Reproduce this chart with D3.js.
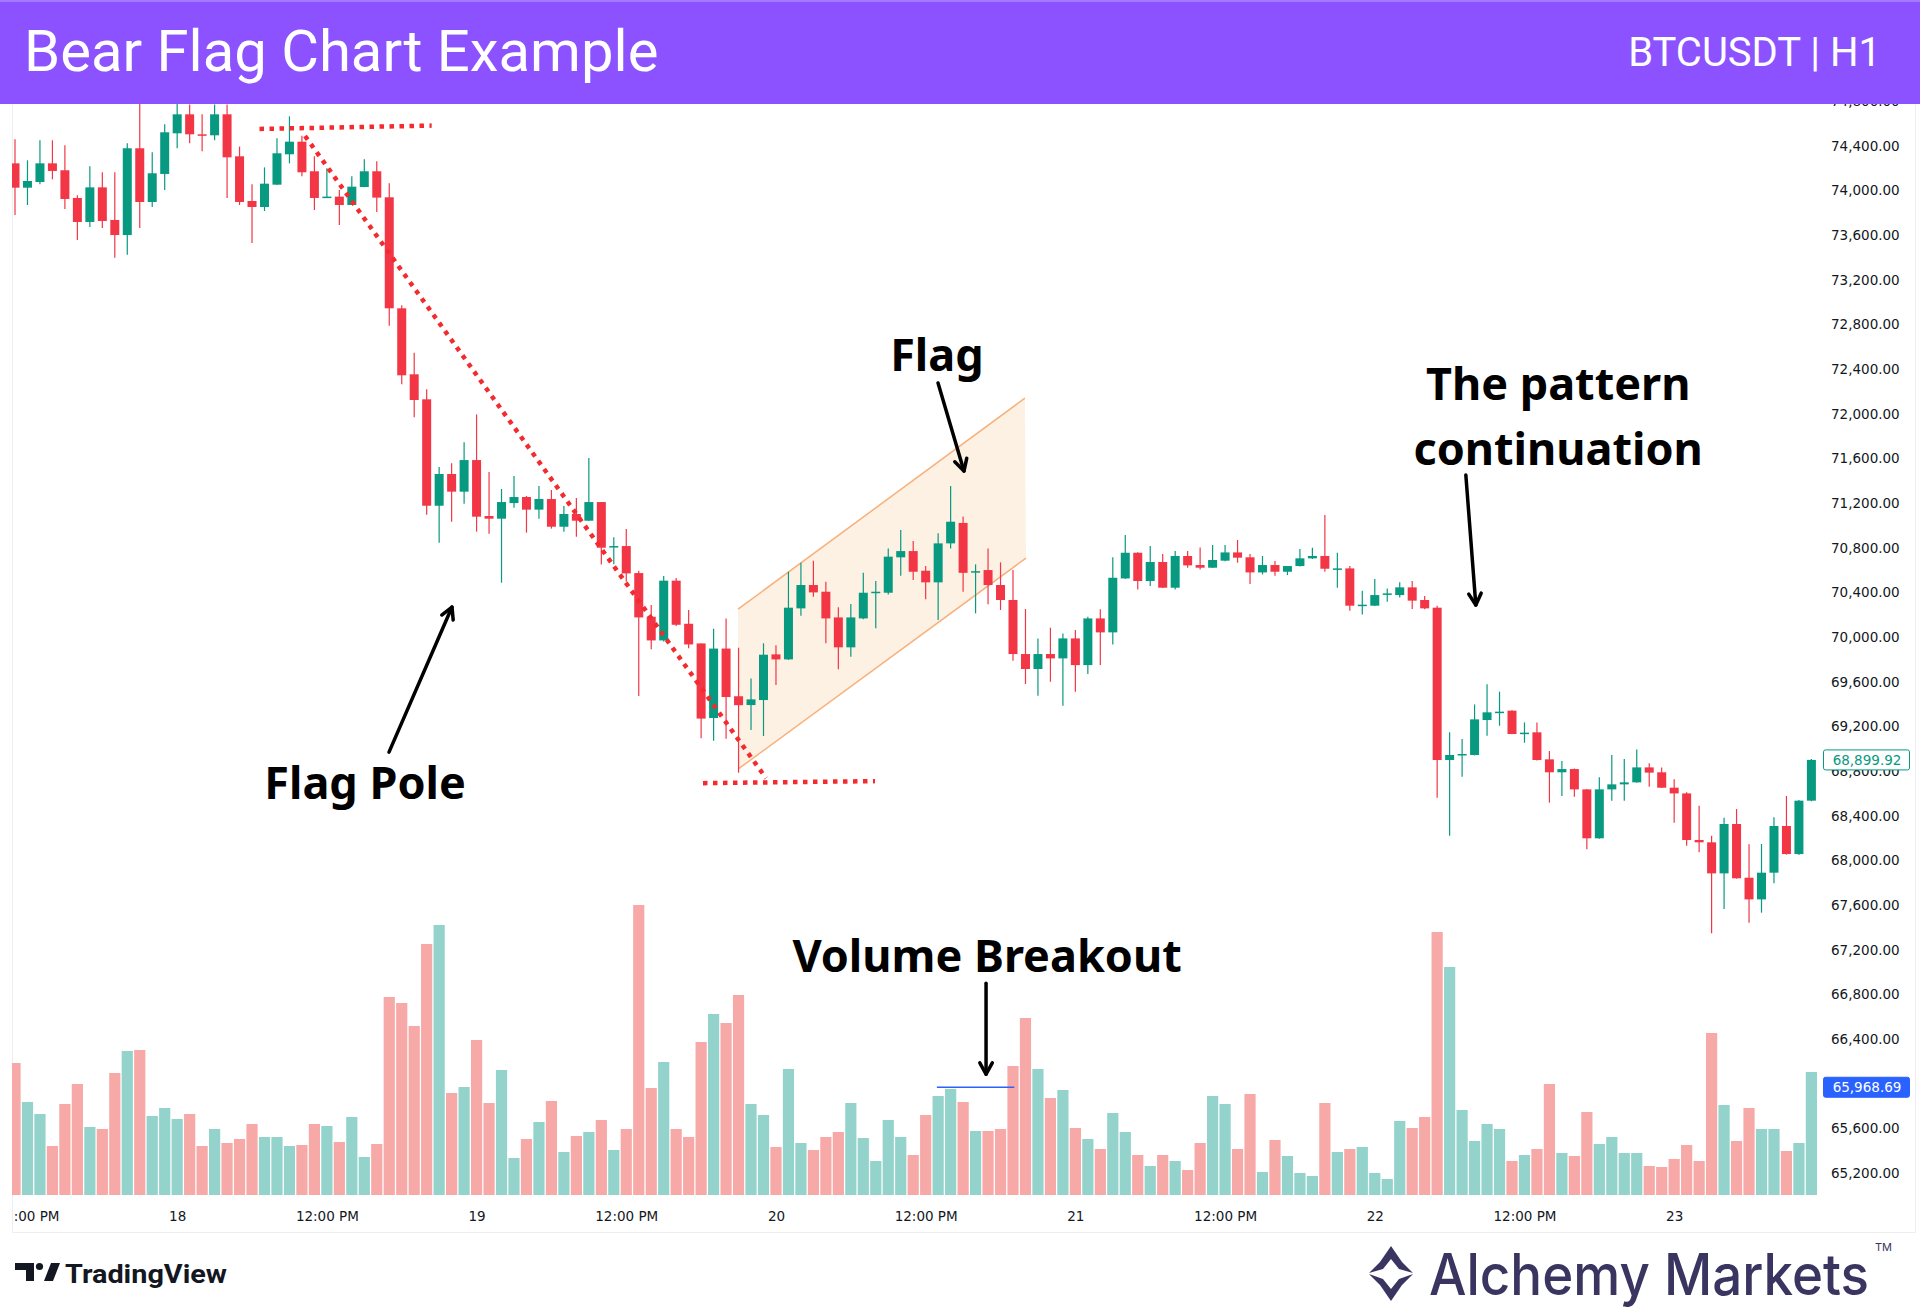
<!DOCTYPE html>
<html>
<head>
<meta charset="utf-8">
<script src="https://cdn.jsdelivr.net/npm/d3@7"></script>
<style>
  body { margin: 0; background: #fff; }
  svg { display: block; }
</style>
</head>
<body>
<svg id="chart" width="1920" height="1314"></svg>
<script>
// BTCUSDT 1h candles, 17th 11:00 -> 23rd 11:00
const opens = [74242,74024,74075,74242,74180,73932,73717,74027,73735,73600,74377,73896,74147,74511,74681,74502,74493,74681,74305,73905,
  73851,74051,74323,74436,74171,73940,73944,73869,74030,74171,73938,72944,72353,72129,71176,71460,71302,71585,71084,71060,
  71200,71254,71141,71236,70988,71102,71042,71209,70808,70815,70573,70182,69970,70505,70119,69943,69275,69897,69470,69391,
  69436,69845,69800,70257,70466,70406,70176,69908,70167,70400,70397,70714,70770,70594,70490,70839,71022,70580,70600,70466,
  70332,69848,69714,69848,69809,69988,69749,70167,70042,70525,70755,70502,70672,70442,70726,70645,70621,70684,70758,70714,
  70579,70645,70585,70636,70705,70726,70608,70615,70284,70281,70385,70376,70445,70332,70263,68899,68950,68944,69257,69329,
  69341,69140,69147,68905,68789,68818,68636,68198,68636,68681,68699,68833,68789,68651,68600,68183,68162,67884,68326,67845,
  67651,67890,68308,68057,68535];
const highs = [74457,74269,74448,74448,74403,73956,74215,74162,74162,74421,74850,74341,74592,74780,74770,74681,74770,74770,74392,74054,
  74206,74466,74663,74490,74305,74197,74003,74126,74278,74260,74063,72971,72547,72218,71523,71556,71744,71994,71478,71326,
  71442,71263,71353,71317,71173,71245,71603,71209,70893,70967,70594,70287,70546,70528,70242,69943,70075,70167,69905,69630,
  69944,69926,70585,70666,70684,70496,70266,70296,70576,70502,70794,70958,70860,70636,70929,71353,71080,70651,70794,70669,
  70600,70251,69988,70084,70033,70063,70182,70248,70714,70914,70760,70815,70743,70770,70770,70803,70824,70824,70869,70743,
  70726,70681,70636,70788,70800,71093,70755,70636,70415,70520,70436,70490,70502,70367,70281,69147,69087,69397,69577,69511,
  69345,69236,69236,68980,68890,68822,68640,68744,68944,68908,68994,68869,68833,68726,68610,68490,68221,68383,68460,68144,
  68147,68386,68577,68541,68908];
const lows = [73780,73869,74054,74099,73833,73556,73672,73663,73397,73424,73663,73851,74003,74377,74421,74350,74448,73932,73869,73529,
  73815,74048,74242,74126,73824,73938,73690,73869,74028,73806,72788,72263,71968,71096,70845,71033,71194,70944,70926,70487,
  71159,70935,71060,70971,70944,70899,71042,70650,70651,70496,69472,69890,69960,70100,69899,69093,69072,69090,68785,69167,
  69114,69570,69795,70191,70361,69944,69711,69824,70160,70078,70382,70549,70511,70338,70153,70794,70406,70212,70293,70242,
  69788,69579,69475,69600,69385,69511,69669,69749,69934,70520,70427,70457,70440,70427,70621,70606,70618,70680,70666,70475,
  70561,70549,70555,70632,70700,70585,70442,70236,70203,70278,70317,70355,70251,70250,68562,68221,68750,68940,69117,69206,
  69130,69054,68895,68517,68577,68571,68099,68195,68535,68535,68695,68660,68648,68338,68132,68072,67347,67565,67836,67442,
  67532,67795,68052,68048,68530];
const closes = [74024,74084,74242,74174,73923,73717,74027,73726,73600,74377,73896,74153,74520,74681,74502,74498,74681,74296,73896,73851,
  74060,74332,74436,74162,73932,73944,73869,74033,74171,73935,72944,72344,72123,71176,71460,71302,71585,71078,71060,71209,
  71254,71141,71236,70988,71102,71042,71209,70800,70815,70570,70176,69970,70505,70110,69934,69270,69897,69463,69390,69442,
  69842,69800,70263,70466,70400,70167,69908,70176,70397,70406,70720,70770,70585,70490,70839,71033,70575,70590,70466,70332,
  69848,69714,69848,69809,69988,69749,70167,70042,70531,70755,70502,70672,70442,70726,70642,70621,70690,70758,70711,70579,
  70645,70585,70636,70705,70726,70612,70615,70281,70290,70376,70391,70445,70326,70257,68899,68944,68953,69263,69326,69332,
  69132,69144,68899,68789,68818,68636,68198,68636,68681,68699,68833,68786,68651,68600,68183,68162,67884,68326,67840,67651,
  67890,68308,68057,68535,68899.92];
const volumes = [1320,930,810,490,910,1110,680,660,1220,1440,1450,790,870,760,810,490,660,520,560,710,
  580,580,490,500,710,690,530,780,380,510,1980,1920,1690,2510,2700,1020,1080,1550,920,1250,
  370,560,730,940,430,590,630,750,450,660,2900,1070,1330,660,580,1530,1810,1720,2000,910,
  800,480,1260,520,450,580,630,920,570,340,750,580,400,800,990,1060,930,640,640,660,
  1290,1770,1260,970,1050,670,560,460,820,630,400,290,400,340,250,520,990,910,460,1010,
  230,550,390,220,190,920,430,460,480,220,160,740,670,780,2630,2280,850,540,710,660,
  340,400,460,1110,420,390,830,510,580,420,420,290,280,360,500,340,1620,900,540,870,
  660,660,440,520,1230];

const startTime = Date.UTC(2024, 2, 17, 11);
const priceTicks = [65200,65600,66000,66400,66800,67200,67600,68000,68400,68800,69200,69600,70000,
  70400,70800,71200,71600,72000,72400,72800,73200,73600,74000,74400,74800];
const lastPrice = 68899.92;
const breakoutLevel = 65968.69;

// drawings, anchored as [bar index, price]
const poleTop = [[19.6, 74550], [33.4, 74580]];
const poleLine = [[23.25, 74487], [60.2, 68737]];
const poleBottom = [[55.15, 68692], [68.94, 68710]];
const flagChannel = [[57.96, 70250], [80.96, 72140], [81.04, 70707], [57.96, 68817]];
const breakoutLine = [[73.9, breakoutLevel], [80.1, breakoutLevel]];
const labels = [
  { text: "Flag", at: [73.9, 72535] },
  { text: "Flag Pole", at: [28.06, 68711] },
  { text: "The pattern", at: [123.7, 72282] },
  { text: "continuation", at: [123.7, 71700] },
  { text: "Volume Breakout", at: [77.92, 67161] }
];
const arrows = [
  [[73.99, 72275], [76.07, 71487]],
  [[29.98, 68970], [35.03, 70269]],
  [[116.3, 71451], [117.1, 70287]],
  [[77.84, 66900], [77.84, 66085]]
];

const up = "#089981", down = "#f23645";
const upVol = "#93d3cc", downVol = "#f7a9a8";

const svg = d3.select("#chart");
const hour = 3600e3;
const t = i => new Date(startTime + i * hour);

const bars = opens.map((o, i) => ({
  t: t(i), o, h: highs[i], l: lows[i], c: closes[i], v: volumes[i], up: closes[i] >= o
}));

const x = d3.scaleUtc()
    .domain([bars[0].t, bars[bars.length - 1].t])
    .range([15, 1811.4]);
const y = d3.scaleLinear()
    .domain([65200, 74400])
    .range([1173.1, 145.7]);
const yVol = d3.scaleLinear()
    .domain([0, 3000])
    .range([1195, 895]);

const px = ([i, p]) => [x(t(i)), y(p)];

const defs = svg.append("defs");
defs.append("clipPath").attr("id", "pane")
  .append("rect").attr("x", 12).attr("y", 0).attr("width", 1806).attr("height", 1232);
defs.append("clipPath").attr("id", "timeClip")
  .append("rect").attr("x", 13.5).attr("y", 1195).attr("width", 1804).attr("height", 37);

// widget border
svg.append("path")
    .attr("d", "M12.5,100 V1232.5 H1915.5 V100")
    .attr("fill", "none")
    .attr("stroke", "#eceef2");

const pane = svg.append("g").attr("clip-path", "url(#pane)");

// volume
pane.append("g")
  .selectAll("rect")
  .data(bars)
  .join("rect")
    .attr("x", d => x(d.t) - 5.6)
    .attr("width", 11.2)
    .attr("y", d => yVol(d.v))
    .attr("height", d => yVol(0) - yVol(d.v))
    .attr("fill", d => d.up ? upVol : downVol);

// flag channel
pane.append("path")
    .attr("d", d3.line()(flagChannel.map(px)) + "Z")
    .attr("fill", "#fdf1e4")
    .attr("stroke", "none");
pane.append("g")
  .selectAll("path")
  .data([[flagChannel[0], flagChannel[1]], [flagChannel[3], flagChannel[2]]])
  .join("path")
    .attr("d", d => d3.line()(d.map(px)))
    .attr("stroke", "#f8b07a")
    .attr("stroke-width", 1.5);

// candles
const candle = pane.append("g")
  .selectAll("g")
  .data(bars)
  .join("g")
    .attr("fill", d => d.up ? up : down)
    .attr("stroke", d => d.up ? up : down);

candle.append("line")
    .attr("x1", d => x(d.t)).attr("x2", d => x(d.t))
    .attr("y1", d => y(d.h)).attr("y2", d => y(d.l))
    .attr("stroke-width", 1.2);

candle.append("rect")
    .attr("x", d => x(d.t) - 4.5)
    .attr("width", 9)
    .attr("y", d => y(Math.max(d.o, d.c)))
    .attr("height", d => Math.max(1.5, Math.abs(y(d.o) - y(d.c))))
    .attr("stroke", "none");

// dotted pole lines
pane.append("g")
  .selectAll("path")
  .data([poleTop, poleLine, poleBottom])
  .join("path")
    .attr("d", d => d3.line()(d.map(px)))
    .attr("stroke", "#f42a2f")
    .attr("stroke-width", 4.5)
    .attr("stroke-dasharray", "4.5 5.5")
    .attr("fill", "none");

// volume breakout level
pane.append("path")
    .attr("d", d3.line()(breakoutLine.map(px)))
    .attr("stroke", "#2962ff")
    .attr("stroke-width", 1.5);

// arrows
const arrow = svg.append("g")
    .attr("stroke", "#000")
    .attr("stroke-width", 3.5)
    .attr("fill", "none")
    .attr("stroke-linecap", "round")
    .attr("stroke-linejoin", "round")
  .selectAll("g")
  .data(arrows)
  .join("g");
arrow.append("path")
    .attr("d", d => d3.line()(d.map(px)));
arrow.append("path")
    .attr("d", d => {
      const [x1, y1] = px(d[0]), [x2, y2] = px(d[1]);
      const a = Math.atan2(y2 - y1, x2 - x1), L = 13, s = 0.5;
      return `M${x2 - L * Math.cos(a - s)},${y2 - L * Math.sin(a - s)}L${x2},${y2}L${x2 - L * Math.cos(a + s)},${y2 - L * Math.sin(a + s)}`;
    });

svg.append("g")
  .selectAll("text")
  .data(labels)
  .join("text")
    .attr("x", d => px(d.at)[0])
    .attr("y", d => px(d.at)[1])
    .attr("text-anchor", "middle")
    .attr("dominant-baseline", "central")
    .attr("font-family", "'Noto Sans', sans-serif")
    .attr("font-weight", 700)
    .attr("font-size", 45)
    .attr("fill", "#000")
    .text(d => d.text);

// time axis (clipped at the pane's left edge, like the reference)
const timeAxis = svg.append("g")
    .attr("clip-path", "url(#timeClip)")
  .append("g")
    .attr("transform", "translate(0,1210)")
    .call(d3.axisBottom(x)
      .ticks(d3.utcHour.every(12))
      .tickSize(0)
      .tickPadding(0)
      .tickFormat(d => d.getUTCHours() === 0 ? d3.utcFormat("%-d")(d) : "12:00 PM"));
timeAxis.select(".domain").remove();
timeAxis.selectAll("text")
    .attr("dy", "0.8em")
    .attr("font-family", "'DejaVu Sans', sans-serif")
    .attr("font-size", 13.5)
    .attr("fill", "#131722");

// price axis
const priceAxis = svg.append("g")
    .attr("transform", "translate(1831,0)")
    .call(d3.axisRight(y)
      .tickValues(priceTicks)
      .tickSize(0)
      .tickPadding(0)
      .tickFormat(d3.format(",.2f")));
priceAxis.select(".domain").remove();
priceAxis.selectAll("text")
    .attr("font-family", "'DejaVu Sans', sans-serif")
    .attr("font-size", 13.5)
    .attr("fill", "#131722");

// price labels
const tag = (value, fill, stroke, color) => {
  const g = svg.append("g").attr("transform", `translate(1823,${y(value)})`);
  g.append("rect")
      .attr("x", 0.5).attr("y", -10).attr("width", 86).attr("height", 20).attr("rx", 2)
      .attr("fill", fill).attr("stroke", stroke);
  g.append("text")
      .attr("x", 44).attr("dy", "0.35em").attr("text-anchor", "middle")
      .attr("font-family", "'DejaVu Sans', sans-serif").attr("font-size", 13.5)
      .attr("fill", color)
      .text(d3.format(",.2f")(value));
};
tag(lastPrice, "#fff", up, up);
tag(breakoutLevel, "#2962ff", "#2962ff", "#fff");

// header
svg.append("rect").attr("width", 1920).attr("height", 104).attr("fill", "#8c52ff");
svg.append("rect").attr("width", 1920).attr("height", 2).attr("fill", "#a37bff");
svg.append("text")
    .attr("x", 24).attr("y", 71)
    .attr("font-family", "Roboto, sans-serif").attr("font-size", 58)
    .attr("fill", "#fff")
    .text("Bear Flag Chart Example");
svg.append("text")
    .attr("x", 1881).attr("y", 66).attr("text-anchor", "end")
    .attr("font-family", "Roboto, sans-serif").attr("font-size", 40)
    .attr("fill", "#fff")
    .text("BTCUSDT | H1");

// footer logos
const tv = svg.append("g").attr("fill", "#131722");
tv.append("path").attr("d", "M15,1263H34V1281H26V1270H15Z");
tv.append("circle").attr("cx", 39.5).attr("cy", 1266.5).attr("r", 3.6);
tv.append("path").attr("d", "M44,1281L51,1263H60L53,1281Z");
tv.append("text")
    .attr("x", 65).attr("y", 1283)
    .attr("font-family", "Roboto, sans-serif").attr("font-weight", 700).attr("font-size", 26)
    .attr("textLength", 162).attr("lengthAdjust", "spacingAndGlyphs")
    .text("TradingView");

const am = svg.append("g").attr("fill", "#3a3560");
am.append("path").attr("d", "M1391,1246L1402,1262L1413,1273L1399,1269L1391,1259L1383,1269L1369,1273L1380,1262Z");
am.append("path").attr("d", "M1391,1301L1402,1285L1413,1274L1399,1279L1391,1289L1383,1279L1369,1274L1380,1285Z");
am.append("text")
    .attr("x", 1429).attr("y", 1295)
    .attr("font-family", "Inter, sans-serif").attr("font-weight", 500).attr("font-size", 57)
    .attr("textLength", 440).attr("lengthAdjust", "spacingAndGlyphs")
    .text("Alchemy Markets");
am.append("text")
    .attr("x", 1875).attr("y", 1251)
    .attr("font-family", "Inter, sans-serif").attr("font-size", 11)
    .text("TM");
</script>
</body>
</html>
